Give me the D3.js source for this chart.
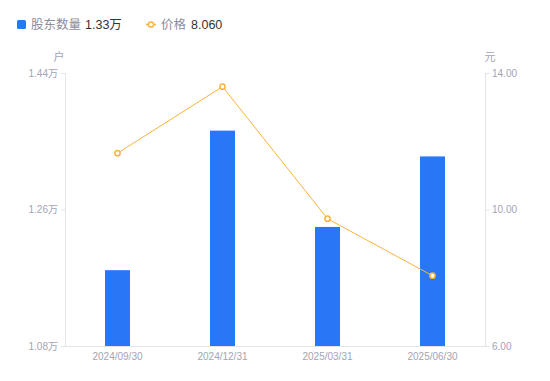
<!DOCTYPE html>
<html>
<head>
<meta charset="utf-8">
<script src="https://cdn.jsdelivr.net/npm/d3@7"></script>
<style>
  body { margin: 0; background: #fff; }
  svg { display: block; font-family: "Liberation Sans", "Noto Sans CJK SC", sans-serif; }
</style>
</head>
<body>
<svg class="chart"></svg>
<script>
// data
const dates = ['2024/09/30', '2024/12/31', '2025/03/31', '2025/06/30'];
const holders = [1.18, 1.364, 1.237, 1.33]; // 万户
const prices = [11.65, 13.6, 9.73, 8.06]; // 元
const leftTicks = [1.08, 1.26, 1.44];
const rightTicks = [6, 10, 14];

const W = 550;
const H = 381;
const margin = { top: 73, right: 65, bottom: 35, left: 65 };
const w = W - margin.left - margin.right;
const h = H - margin.top - margin.bottom;
const font = '"Liberation Sans", "Noto Sans CJK SC", sans-serif';

const svg = d3.select('.chart')
  .attr('width', W)
  .attr('height', H);

const g = svg.append('g')
  .attr('transform', 'translate(' + margin.left + ',' + margin.top + ')');

const x = d3.scaleBand().domain(dates).range([0, w]);
const yL = d3.scaleLinear().domain([1.08, 1.44]).range([h, 0]);
const yR = d3.scaleLinear().domain([6, 14]).range([h, 0]);

const axisColor = '#e3e3e8';
const textColor = '#a3a3b5';

// left axis
const leftAxis = g.append('g')
  .call(d3.axisLeft(yL).tickValues(leftTicks).tickSize(4).tickPadding(3)
    .tickFormat(d => d3.format('.2f')(d) + '万'));
// right axis
const rightAxis = g.append('g')
  .attr('transform', 'translate(' + w + ',0)')
  .call(d3.axisRight(yR).tickValues(rightTicks).tickSize(4).tickPadding(3)
    .tickFormat(d3.format('.2f')));
// bottom axis
const bottomAxis = g.append('g')
  .attr('transform', 'translate(0,' + h + ')')
  .call(d3.axisBottom(x).tickSize(0).tickPadding(7));

[leftAxis, rightAxis, bottomAxis].forEach(function (a) {
  a.select('.domain').attr('stroke', axisColor);
  a.selectAll('.tick line').attr('stroke', axisColor);
  a.selectAll('.tick text')
    .attr('fill', textColor)
    .style('font-size', '10px')
    .style('font-family', font);
});
rightAxis.selectAll('.tick').filter(d => d === 6).select('line').remove();

// units
g.append('text')
  .attr('x', -6)
  .attr('y', -12)
  .attr('text-anchor', 'middle')
  .attr('fill', textColor)
  .style('font-size', '11px')
  .text('户');
g.append('text')
  .attr('x', w + 5)
  .attr('y', -12)
  .attr('text-anchor', 'middle')
  .attr('fill', textColor)
  .style('font-size', '11px')
  .text('元');

// bars
const barW = 25;
g.selectAll('rect.bar')
  .data(holders)
  .enter()
  .append('rect')
  .attr('class', 'bar')
  .attr('x', (d, i) => x(dates[i]) + x.bandwidth() / 2 - barW / 2)
  .attr('y', d => yL(d))
  .attr('width', barW)
  .attr('height', d => h - yL(d))
  .attr('fill', '#2777f6');

// price line
const line = d3.line()
  .x((d, i) => x(dates[i]) + x.bandwidth() / 2)
  .y(d => yR(d));

g.append('path')
  .datum(prices)
  .attr('d', line)
  .attr('fill', 'none')
  .attr('stroke', '#fbb23e')
  .attr('stroke-width', 1);

g.selectAll('circle.pt')
  .data(prices)
  .enter()
  .append('circle')
  .attr('class', 'pt')
  .attr('cx', (d, i) => x(dates[i]) + x.bandwidth() / 2)
  .attr('cy', d => yR(d))
  .attr('r', 2.6)
  .attr('fill', '#fff')
  .attr('stroke', '#fbb23e')
  .attr('stroke-width', 1.5);

// legend
const legend = svg.append('g').style('font-size', '12.5px');
legend.append('rect')
  .attr('x', 17).attr('y', 20)
  .attr('width', 9).attr('height', 9)
  .attr('rx', 1.5)
  .attr('fill', '#2777f6');
legend.append('text')
  .attr('x', 31).attr('y', 29)
  .attr('fill', '#8c8c9c')
  .text('股东数量');
legend.append('text')
  .attr('x', 85).attr('y', 29)
  .attr('fill', '#333')
  .text('1.33万');

legend.append('line')
  .attr('x1', 146).attr('x2', 156)
  .attr('y1', 24.5).attr('y2', 24.5)
  .attr('stroke', '#fbb23e')
  .attr('stroke-width', 1.5);
legend.append('circle')
  .attr('cx', 151).attr('cy', 24.5)
  .attr('r', 2.6)
  .attr('fill', '#fff')
  .attr('stroke', '#fbb23e')
  .attr('stroke-width', 1.5);
legend.append('text')
  .attr('x', 161).attr('y', 29)
  .attr('fill', '#8c8c9c')
  .text('价格');
legend.append('text')
  .attr('x', 191).attr('y', 29)
  .attr('fill', '#333')
  .text('8.060');
</script>
</body>
</html>
